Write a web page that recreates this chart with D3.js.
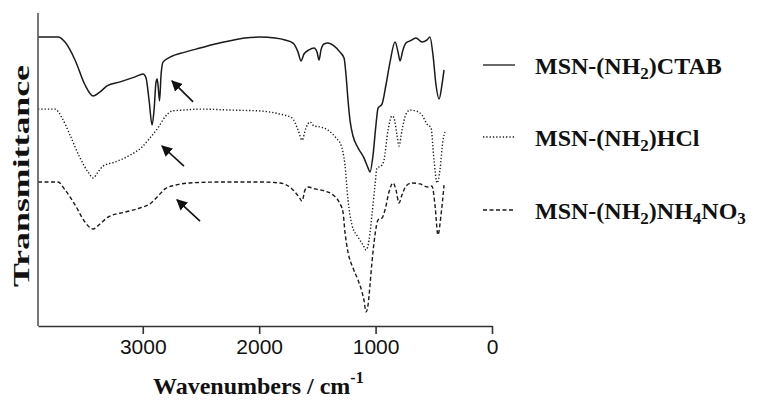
<!DOCTYPE html>
<html>
<head>
<meta charset="utf-8">
<script src="https://cdn.jsdelivr.net/npm/d3@7"></script>
<style>
  body { margin: 0; background: #fff; }
  svg { display: block; }
</style>
</head>
<body>
<div id="chart"></div>
<script>
// spektra FTIR (vlnocet, transmitance v libovolnych jednotkach)
const ctabWave = [3900, 3728, 3668, 3582, 3496, 3427, 3367, 3307, 3195, 3066, 2997, 2972, 2946, 2920, 2903, 2886, 2877, 2869, 2856, 2843, 2826, 2766, 2637, 2508, 2379, 2251, 2122, 1993, 1864, 1778, 1709, 1666, 1641, 1615, 1572, 1529, 1503, 1486, 1469, 1443, 1409, 1357, 1306, 1271, 1254, 1237, 1220, 1194, 1151, 1100, 1065, 1048, 1022, 997, 979, 945, 911, 876, 833, 807, 790, 765, 739, 704, 653, 601, 558, 533, 507, 481, 455, 430, 412];
const ctabT = [92.3, 92.3, 90.7, 85.0, 77.0, 73.5, 74.8, 76.7, 78.0, 79.6, 80.5, 79.2, 72.2, 64.2, 69.0, 78.0, 78.9, 77.0, 71.9, 80.2, 84.3, 85.9, 87.5, 88.8, 90.1, 91.1, 92.0, 92.3, 92.0, 91.4, 90.4, 87.5, 84.7, 86.9, 88.2, 88.8, 87.5, 85.0, 88.2, 90.1, 90.4, 89.5, 87.5, 85.6, 80.2, 72.2, 65.8, 60.7, 56.9, 53.7, 50.5, 49.2, 54.6, 64.2, 69.6, 70.9, 77.0, 84.3, 90.7, 87.5, 84.7, 88.2, 90.4, 91.1, 92.0, 90.7, 91.4, 92.3, 86.6, 77.0, 72.5, 77.0, 81.8];

const hclWave = [3900, 3754, 3694, 3625, 3539, 3470, 3427, 3384, 3341, 3238, 3109, 3006, 2938, 2869, 2809, 2749, 2637, 2508, 2251, 1993, 1821, 1718, 1666, 1632, 1598, 1563, 1529, 1477, 1409, 1340, 1297, 1263, 1237, 1203, 1151, 1108, 1082, 1056, 1031, 1005, 988, 953, 928, 893, 859, 842, 816, 799, 773, 739, 704, 653, 601, 558, 524, 498, 472, 447, 421, 404];
const hclT = [69.3, 69.3, 66.5, 61.0, 53.7, 49.2, 47.3, 49.2, 51.1, 52.4, 54.6, 57.2, 60.1, 63.3, 66.8, 68.7, 69.0, 69.3, 69.0, 68.7, 67.7, 66.5, 62.6, 59.4, 63.3, 65.2, 63.9, 63.6, 62.6, 60.1, 57.8, 51.4, 40.3, 32.3, 28.4, 25.9, 24.3, 27.5, 35.5, 45.0, 50.5, 51.1, 53.0, 62.6, 67.1, 66.5, 61.0, 57.5, 62.6, 67.7, 69.0, 68.7, 67.4, 64.5, 63.3, 53.0, 45.7, 49.8, 59.4, 62.0];

const nh4Wave = [3900, 3728, 3668, 3582, 3496, 3427, 3367, 3298, 3152, 3024, 2929, 2869, 2809, 2723, 2594, 2337, 1993, 1821, 1718, 1658, 1632, 1606, 1580, 1520, 1434, 1366, 1314, 1280, 1263, 1237, 1194, 1151, 1117, 1100, 1082, 1065, 1048, 1031, 1005, 979, 945, 919, 885, 850, 825, 799, 773, 739, 687, 618, 550, 515, 490, 464, 438, 412];
const nh4T = [46.0, 46.0, 43.5, 38.7, 33.2, 31.0, 32.6, 34.8, 36.4, 37.7, 39.3, 41.5, 43.8, 45.0, 45.7, 46.0, 46.0, 45.7, 43.8, 41.2, 39.9, 43.5, 44.4, 43.8, 43.1, 41.9, 39.6, 36.4, 30.0, 23.6, 18.5, 14.7, 10.9, 8.3, 4.5, 6.7, 13.1, 20.4, 29.1, 33.9, 34.5, 37.1, 42.8, 45.7, 43.5, 39.3, 41.9, 44.7, 45.7, 45.4, 44.4, 44.7, 38.7, 29.1, 35.5, 45.0];

const seriesNames = ["CTAB", "HCl", "NH4NO3"];
const xTicks = [3000, 2000, 1000, 0];

// sipky: [vlnocet, T] konce a hrotu
const arrowFrom = [[2568, 71.6], [2646, 51.1], [2508, 33.5]];
const arrowTo = [[2749, 78.3], [2835, 57.5], [2706, 40.3]];

const width = 762, height = 403;
const mLeft = 38, mRight = 492, mTop = 13, mBottom = 326;

const svg = d3.select("#chart").append("svg")
    .attr("width", width)
    .attr("height", height);

const x = d3.scaleLinear().domain([3900, 0]).range([mLeft, mRight]);
const y = d3.scaleLinear().domain([0, 100]).range([mBottom, mTop]);

const line = d3.line()
    .x(d => x(d[0]))
    .y(d => y(d[1]))
    .curve(d3.curveMonotoneX);

const series = [
    { name: seriesNames[0], data: d3.zip(ctabWave, ctabT), dash: null, w: 1.5 },
    { name: seriesNames[1], data: d3.zip(hclWave, hclT), dash: "1.3,2", w: 1.4 },
    { name: seriesNames[2], data: d3.zip(nh4Wave, nh4T), dash: "4,2.5", w: 1.4 }
];

series.forEach(s => {
    svg.append("path")
        .attr("d", line(s.data))
        .attr("fill", "none")
        .attr("stroke", "#1a1a1a")
        .attr("stroke-width", s.w)
        .attr("stroke-dasharray", s.dash);
});

// osy
const xAxis = d3.axisBottom(x).tickValues(xTicks).tickFormat(d3.format("d"))
    .tickSize(8).tickSizeOuter(0).tickPadding(5);
const gx = svg.append("g").attr("transform", `translate(0,${mBottom})`).call(xAxis);
gx.select(".domain").attr("stroke", "#333").attr("stroke-width", 1.6);
gx.selectAll(".tick line").attr("stroke", "#333").attr("stroke-width", 1.6);
gx.selectAll(".tick text")
    .attr("font-family", "'Liberation Sans', Arial, sans-serif")
    .attr("font-size", 21)
    .attr("fill", "#111");

svg.append("line")
    .attr("x1", mLeft).attr("x2", mLeft)
    .attr("y1", mTop).attr("y2", mBottom)
    .attr("stroke", "#555").attr("stroke-width", 1.6);

// titulky os
const titleX = svg.append("text")
    .attr("x", 153).attr("y", 394)
    .attr("font-family", "'Liberation Serif', 'Times New Roman', serif")
    .attr("font-weight", "bold")
    .attr("font-size", 24)
    .attr("fill", "#111");
titleX.append("tspan").text("Wavenumbers / cm");
titleX.append("tspan").attr("dy", -11).attr("font-size", 16).text("-1");

svg.append("text")
    .attr("transform", "translate(29,176) rotate(-90)")
    .attr("text-anchor", "middle")
    .attr("font-family", "'Liberation Serif', 'Times New Roman', serif")
    .attr("font-weight", "bold")
    .attr("font-size", 24)
    .attr("textLength", 222)
    .attr("lengthAdjust", "spacingAndGlyphs")
    .attr("fill", "#111")
    .text("Transmittance");

// sipky
svg.append("defs").append("marker")
    .attr("id", "head")
    .attr("viewBox", "0 0 10 10")
    .attr("refX", 9).attr("refY", 5)
    .attr("markerWidth", 11).attr("markerHeight", 11)
    .attr("markerUnits", "userSpaceOnUse")
    .attr("orient", "auto")
    .append("path")
    .attr("d", "M0,0 L10,5 L0,10 z")
    .attr("fill", "#111");

arrowFrom.forEach((a, i) => {
    svg.append("line")
        .attr("x1", x(a[0])).attr("y1", y(a[1]))
        .attr("x2", x(arrowTo[i][0])).attr("y2", y(arrowTo[i][1]))
        .attr("stroke", "#111").attr("stroke-width", 1.6)
        .attr("marker-end", "url(#head)");
});

// legenda
const legendY = [65, 137, 210];
series.forEach((s, i) => {
    svg.append("line")
        .attr("x1", 483).attr("x2", 515)
        .attr("y1", legendY[i]).attr("y2", legendY[i])
        .attr("stroke", "#1a1a1a")
        .attr("stroke-width", 1.3)
        .attr("stroke-dasharray", s.dash);

    const t = svg.append("text")
        .attr("x", 535).attr("y", legendY[i] + 9)
        .attr("font-family", "'Liberation Serif', 'Times New Roman', serif")
        .attr("font-weight", "bold")
        .attr("font-size", 24)
        .attr("fill", "#111");
    t.append("tspan").text("MSN-(NH");
    t.append("tspan").attr("dy", 5).attr("font-size", 17).text("2");
    t.append("tspan").attr("dy", -5).text(")");
    if (s.name === "NH4NO3") {
        t.append("tspan").text("NH");
        t.append("tspan").attr("dy", 5).attr("font-size", 17).text("4");
        t.append("tspan").attr("dy", -5).text("NO");
        t.append("tspan").attr("dy", 5).attr("font-size", 17).text("3");
    } else {
        t.append("tspan").text(s.name);
    }
});
</script>
</body>
</html>
